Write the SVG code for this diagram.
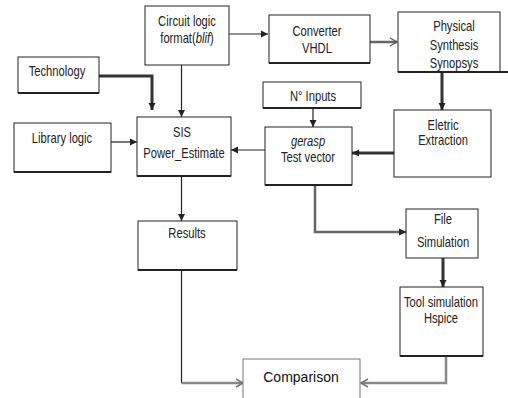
<svg xmlns="http://www.w3.org/2000/svg" width="508" height="398" viewBox="0 0 508 398">
<defs>
<marker id="ah" markerWidth="8" markerHeight="8" refX="7" refY="4" orient="auto" markerUnits="userSpaceOnUse"><path d="M0,0.5 L7,4 L0,7.5 z" fill="#222"/></marker>
<marker id="oh" markerWidth="10" markerHeight="10" refX="8" refY="5" orient="auto" markerUnits="userSpaceOnUse"><path d="M1,1 L8,5 L1,9" fill="none" stroke="#777" stroke-width="1.5"/></marker>
<marker id="oh2" markerWidth="10" markerHeight="10" refX="8" refY="5" orient="auto" markerUnits="userSpaceOnUse"><path d="M1,1 L8,5 L1,9" fill="none" stroke="#555" stroke-width="1.2"/></marker>
</defs>
<style>
.box{fill:#fff;stroke:#222;stroke-width:1}
.sh{fill:none;stroke:#222;stroke-width:2}
.t{font-family:"Liberation Sans",Arial,sans-serif;font-size:14px;fill:#222;text-anchor:middle}
.big{font-family:"Liberation Sans",Arial,sans-serif;font-size:14px;fill:#111;text-anchor:middle}
.c{fill:none;stroke:#222;stroke-width:1.2}
.k{fill:none;stroke:#333;stroke-width:3}
.g{fill:none;stroke:#666;stroke-width:2.5}
.lg{fill:none;stroke:#888;stroke-width:2.5}
</style>
<rect width="508" height="398" fill="#fff"/>
<g id="connectors">
<line class="c" x1="229" y1="34" x2="268" y2="34" marker-end="url(#ah)"/>
<line class="g" x1="370" y1="42" x2="397" y2="42" stroke-width="1.5" marker-end="url(#oh2)"/>
<line class="c" x1="181.5" y1="65" x2="181.5" y2="117" marker-end="url(#ah)"/>
<polyline class="k" points="99,76 152,76 152,110" marker-end="url(#ah)"/>
<line class="c" x1="111" y1="142" x2="137" y2="142" stroke-width="2" marker-end="url(#ah)"/>
<line class="c" x1="265" y1="150" x2="231" y2="150" marker-end="url(#ah)"/>
<line class="c" x1="313" y1="108" x2="313" y2="127" stroke-width="2" marker-end="url(#ah)"/>
<line class="k" x1="442" y1="72" x2="442" y2="110" marker-end="url(#ah)"/>
<line class="k" x1="394" y1="153" x2="352" y2="153" marker-end="url(#ah)"/>
<line class="c" x1="181.5" y1="176" x2="181.5" y2="221" marker-end="url(#ah)"/>
<polyline class="g" points="315,185 315,232 406,232" marker-end="url(#ah)"/>
<line class="k" x1="443" y1="258" x2="443" y2="287" marker-end="url(#ah)"/>
<line class="c" x1="181.5" y1="270" x2="181.5" y2="383"/>
<line class="lg" x1="181.5" y1="383" x2="243" y2="383" marker-end="url(#oh)"/>
<polyline class="lg" points="446,356 446,383 361,383" marker-end="url(#oh)"/>
</g>
<g id="circuit">
<rect class="box" x="145" y="6" width="84" height="59"/>
<text class="t" transform="translate(187,26) scale(0.8,1)">Circuit  logic</text>
<text class="t" transform="translate(187,43) scale(0.8,1)">format(<tspan font-style="italic">blif</tspan>)</text>
</g>
<g id="converter">
<rect class="box" x="269" y="15" width="101" height="48"/>
<line class="sh" x1="269" y1="63" x2="370" y2="63"/>
<text class="t" transform="translate(317,36) scale(0.8,1)">Converter</text>
<text class="t" transform="translate(317,53) scale(0.8,1)">VHDL</text>
</g>
<g id="physical">
<rect class="box" x="398" y="12" width="102" height="60"/>
<line class="sh" x1="398" y1="72" x2="508" y2="72"/>
<text class="t" transform="translate(454,31) scale(0.8,1)">Physical</text>
<text class="t" transform="translate(454,50) scale(0.8,1)">Synthesis</text>
<text class="t" transform="translate(454,68) scale(0.8,1)">Synopsys</text>
</g>
<g id="technology">
<rect class="box" x="18" y="57" width="81" height="36"/>
<line class="sh" x1="18" y1="93" x2="99" y2="93"/>
<text class="t" transform="translate(57,76) scale(0.8,1)">Technology</text>
</g>
<g id="library">
<rect class="box" x="14" y="123" width="97" height="49"/>
<line class="sh" x1="14" y1="172" x2="111" y2="172"/>
<text class="t" transform="translate(62,143) scale(0.8,1)">Library logic</text>
</g>
<g id="sis">
<rect class="box" x="137" y="117" width="94" height="59"/>
<line class="sh" x1="137" y1="176" x2="231" y2="176"/>
<text class="t" transform="translate(182,137) scale(0.8,1)">SIS</text>
<text class="t" transform="translate(184,158) scale(0.8,1)">Power_Estimate</text>
</g>
<g id="inputs">
<rect class="box" x="263" y="82" width="98" height="26"/>
<line class="sh" x1="263" y1="108" x2="361" y2="108"/>
<text class="t" transform="translate(313,101) scale(0.8,1)">N° Inputs</text>
</g>
<g id="gerasp">
<rect class="box" x="265" y="127" width="87" height="58"/>
<line class="sh" x1="265" y1="185" x2="352" y2="185"/>
<text class="t" font-style="italic" transform="translate(308,146) scale(0.8,1)">gerasp</text>
<text class="t" transform="translate(308,162) scale(0.8,1)">Test vector</text>
</g>
<g id="eletric">
<rect class="box" x="394" y="110" width="97" height="67"/>
<text class="t" transform="translate(443,130) scale(0.8,1)">Eletric</text>
<text class="t" transform="translate(443,145) scale(0.8,1)">Extraction</text>
</g>
<g id="results">
<rect class="box" x="138" y="221" width="99" height="49"/>
<line class="sh" x1="138" y1="270" x2="237" y2="270"/>
<text class="t" transform="translate(187,238) scale(0.8,1)">Results</text>
</g>
<g id="file">
<rect class="box" x="406" y="209" width="72" height="49"/>
<text class="t" transform="translate(443,224) scale(0.8,1)">File</text>
<text class="t" transform="translate(443,247) scale(0.8,1)">Simulation</text>
</g>
<g id="tool">
<rect class="box" x="400" y="287" width="83" height="69"/>
<line class="sh" x1="400" y1="356" x2="483" y2="356"/>
<text class="t" transform="translate(441,307) scale(0.8,1)">Tool simulation</text>
<text class="t" transform="translate(441,323) scale(0.8,1)">Hspice</text>
</g>
<g id="comparison">
<rect x="243" y="359" width="117" height="50" fill="#fff" stroke="#777" stroke-width="1"/>
<text class="big" x="301" y="382">Comparison</text>
</g>
</svg>
